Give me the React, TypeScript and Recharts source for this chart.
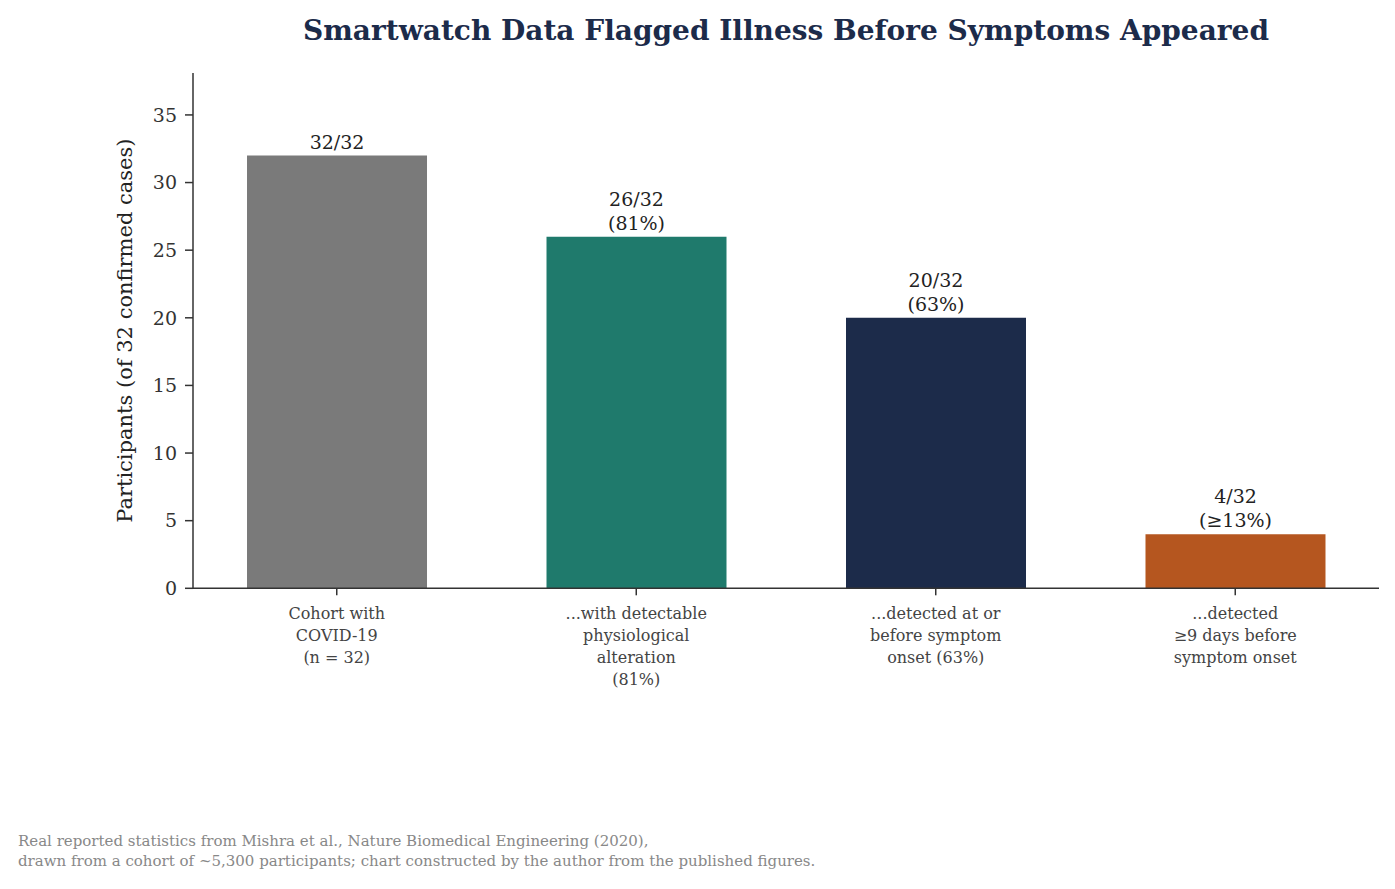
import { BarChart, Bar, XAxis, YAxis, Cell, LabelList } from 'recharts';

const CATEGORIES = [
  'Cohort with\nCOVID-19\n(n = 32)',
  '...with detectable\nphysiological\nalteration\n(81%)',
  '...detected at or\nbefore symptom\nonset (63%)',
  '...detected\n≥9 days before\nsymptom onset',
];
const COUNTS = [32, 26, 20, 4];
const BAR_LABELS = ['32/32', '26/32\n(81%)', '20/32\n(63%)', '4/32\n(≥13%)'];
const COLORS = ['#7a7a7a', '#1f7a6c', '#1c2b4a', '#b5561f'];
const Y_TICKS = [0, 5, 10, 15, 20, 25, 30, 35];
const X_TICKS = [0, 1, 2, 3];

const FONT = '"DejaVu Serif", serif';
const AXIS = '#333';

const data = CATEGORIES.map((name, i) => ({
  x: i,
  name,
  count: COUNTS[i],
  label: BAR_LABELS[i],
}));

function CatTick(props: any) {
  const { x, y, payload } = props;
  const lines = CATEGORIES[payload.value].split('\n');
  return (
    <text x={x} y={y + 22} textAnchor="middle" fontFamily={FONT} fontSize={16} fill="#444">
      {lines.map((l, i) => (
        <tspan key={i} x={x} dy={i === 0 ? 0 : 22}>{l}</tspan>
      ))}
    </text>
  );
}

function BarLabel(props: any) {
  const { x, y, width, value } = props;
  const lines = String(value).split('\n');
  const cx = x + width / 2;
  const last = y - 7;
  return (
    <text textAnchor="middle" fontFamily={FONT} fontSize={19} fill="#222">
      {lines.map((l, i) => (
        <tspan key={i} x={cx} y={last - (lines.length - 1 - i) * 24}>{l}</tspan>
      ))}
    </text>
  );
}

function YLabel(props: any) {
  const { viewBox } = props;
  const cy = viewBox.y + viewBox.height / 2;
  return (
    <text
      x={125}
      y={cy}
      transform={`rotate(-90 125 ${cy})`}
      textAnchor="middle"
      dominantBaseline="central"
      fontFamily={FONT}
      fontSize={21}
      fill="#222"
    >
      Participants (of 32 confirmed cases)
    </text>
  );
}

export default function App() {
  return (
    <div style={{ position: 'absolute', left: 0, top: 0, width: 1395, height: 889, background: '#fff' }}>
      <div style={{
        position: 'absolute', left: 193, width: 1186, top: 14, textAlign: 'center',
        fontFamily: FONT, fontWeight: 'bold', fontSize: 28, color: '#1c2b4a',
      }}>
        Smartwatch Data Flagged Illness Before Symptoms Appeared
      </div>

      <BarChart
        width={1395}
        height={889}
        data={data}
        margin={{ top: 73, right: 16, left: 133, bottom: 200.7 }}
      >
        <XAxis
          type="number"
          dataKey="x"
          domain={[-0.48, 3.48]}
          ticks={X_TICKS}
          interval={0}
          height={100}
          tick={<CatTick />}
          tickSize={7}
          axisLine={{ stroke: AXIS, strokeWidth: 1.5 }}
          tickLine={{ stroke: AXIS, strokeWidth: 1.5 }}
        />
        <YAxis
          type="number"
          domain={[0, 38.1]}
          ticks={Y_TICKS}
          width={60}
          tickSize={8}
          tickMargin={8}
          tick={{ fontFamily: FONT, fontSize: 19, fill: AXIS }}
          axisLine={{ stroke: AXIS, strokeWidth: 1.5 }}
          tickLine={{ stroke: AXIS, strokeWidth: 1.5 }}
          label={<YLabel />}
        />
        <Bar dataKey="count" barSize={180} isAnimationActive={false}>
          {data.map((d, i) => (
            <Cell key={d.x} fill={COLORS[i]} />
          ))}
          <LabelList dataKey="label" content={<BarLabel />} />
        </Bar>
      </BarChart>

      <div style={{
        position: 'absolute', left: 18, top: 831, fontFamily: FONT, fontSize: 15,
        lineHeight: '20px', color: '#888',
      }}>
        Real reported statistics from Mishra et al., Nature Biomedical Engineering (2020),<br />
        drawn from a cohort of ~5,300 participants; chart constructed by the author from the published figures.
      </div>
    </div>
  );
}
